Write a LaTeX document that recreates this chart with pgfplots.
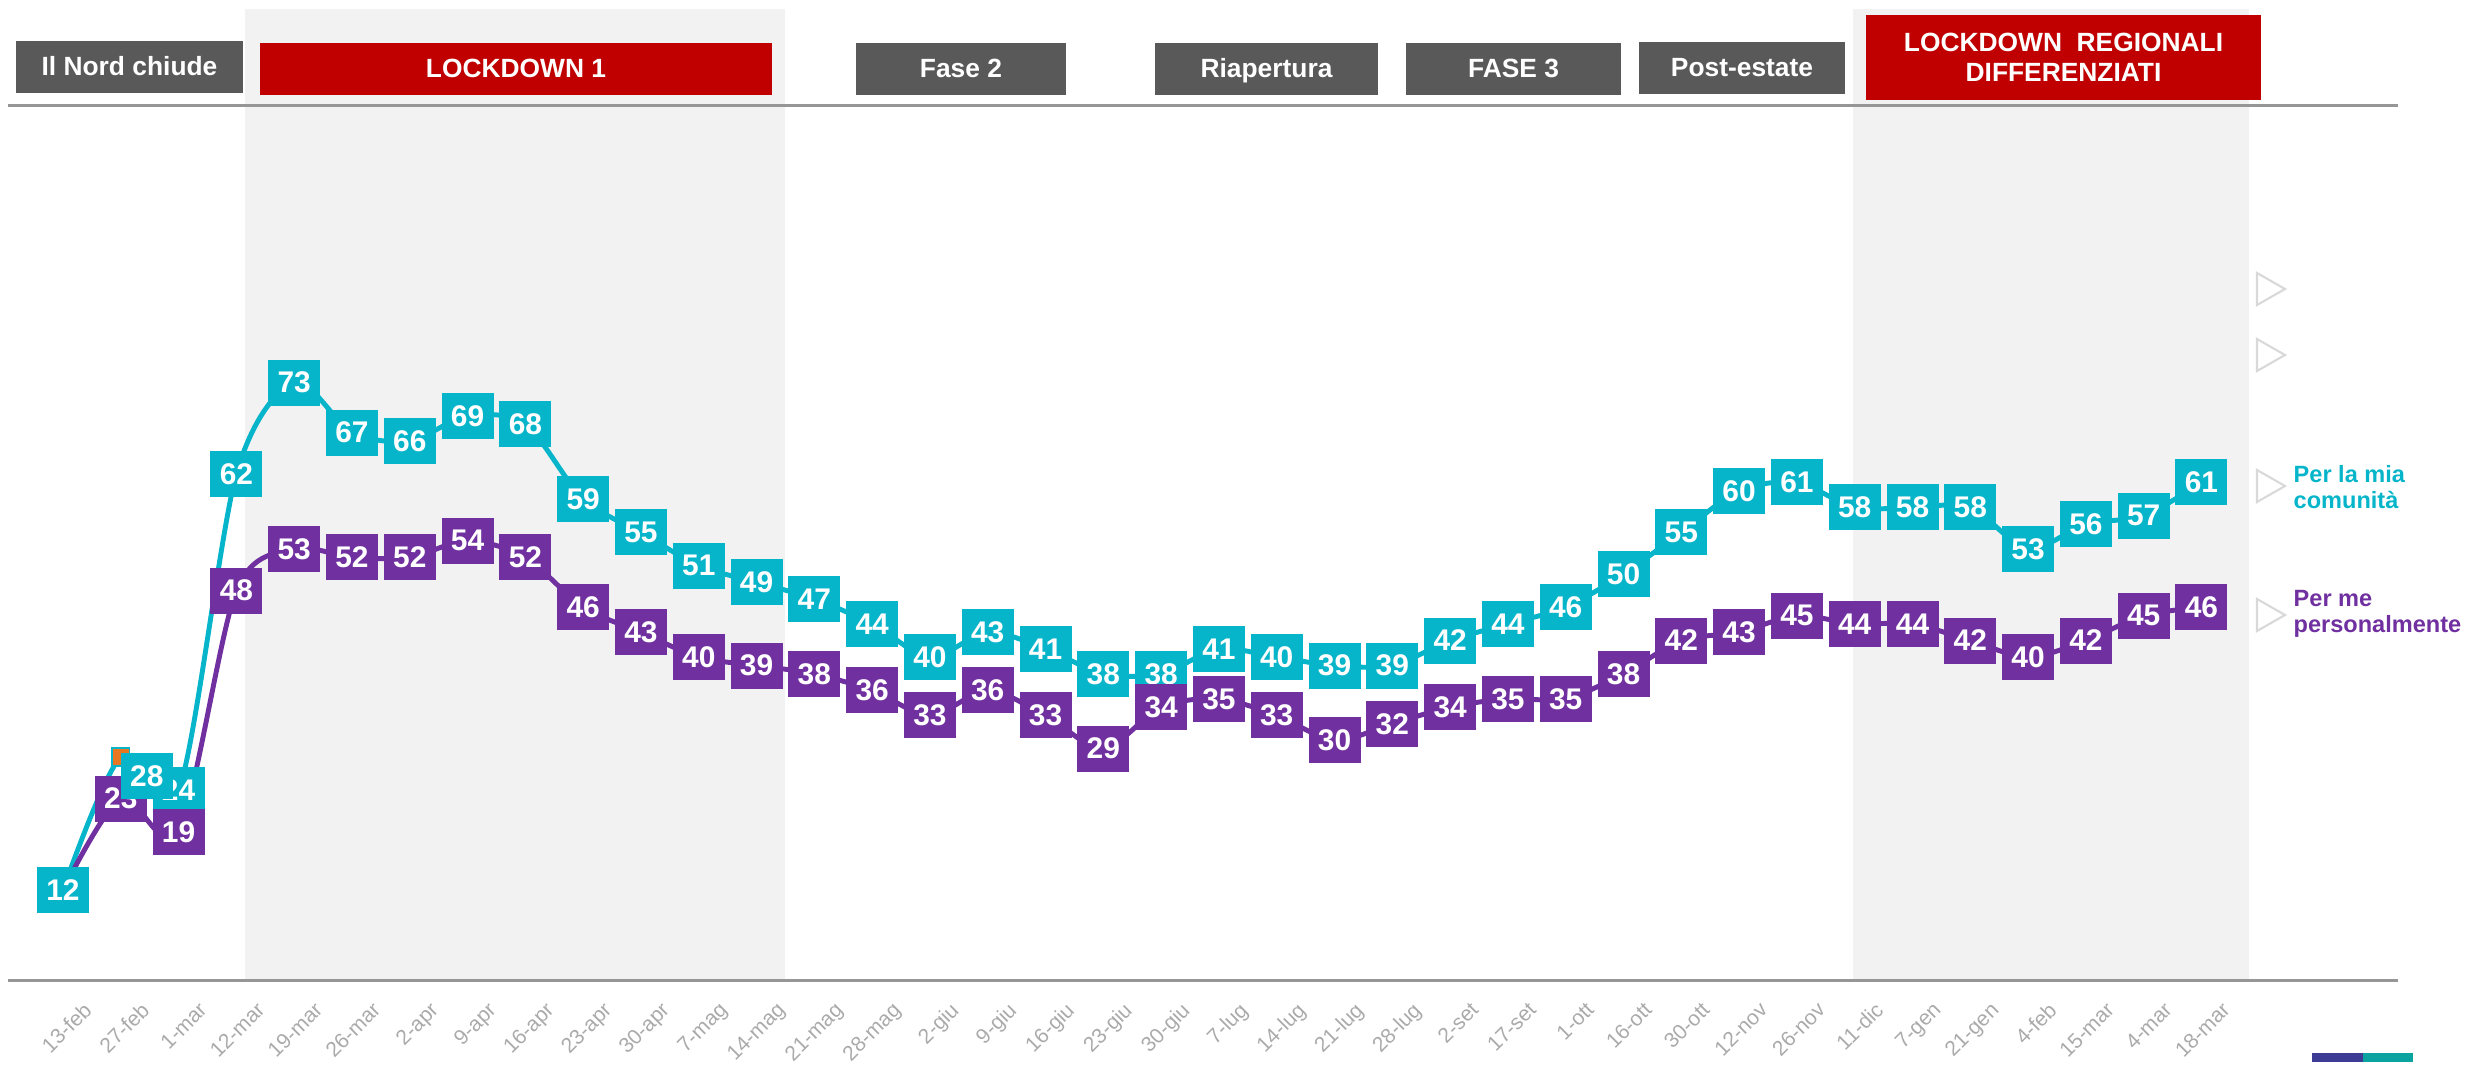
\documentclass[border=0pt]{standalone}
\usepackage{fontspec}
\setmainfont{Liberation Sans}
\usepackage{pgfplots}
\usepackage{pgfplotstable}
\pgfplotsset{compat=1.18}
\definecolor{tealc}{RGB}{7,181,202}
\definecolor{purp}{RGB}{112,48,160}
\definecolor{redc}{RGB}{192,0,0}
\definecolor{dgray}{RGB}{89,89,89}
\definecolor{shadec}{RGB}{242,242,242}
\definecolor{tickc}{RGB}{170,170,170}
\definecolor{axl}{RGB}{150,150,150}
\definecolor{tri}{RGB}{217,217,217}
\definecolor{orng}{RGB}{232,119,34}
\definecolor{logob}{RGB}{60,60,150}
\definecolor{logot}{RGB}{10,163,160}

\pgfplotstableread{
i teal purp
0 12 12
1 28 23
2 24 19
3 62 48
4 73 53
5 67 52
6 66 52
7 69 54
8 68 52
9 59 46
10 55 43
11 51 40
12 49 39
13 47 38
14 44 36
15 40 33
16 43 36
17 41 33
18 38 29
19 38 34
20 41 35
21 40 33
22 39 30
23 39 32
24 42 34
25 44 35
26 46 35
27 50 38
28 55 42
29 60 43
30 61 45
31 58 44
32 58 44
33 58 42
34 53 40
35 56 42
36 57 45
37 61 46
}\datatab

\pgfplotsset{
  tbox/.style={nodes near coords, nodes near coords align={anchor=center},
    every node near coord/.append style={fill=#1, text=white,
      font=\bfseries\fontsize{8.5}{9}\selectfont,
      minimum width=5.2mm, minimum height=4.6mm, inner sep=0pt, anchor=center}},
}
\newcommand\banner[7][text height=0.72em, text depth=0.21em]{%
  \fill[#6] (#2,#3) rectangle (#4,#5);
  \node[text=white, font=\bfseries\fontsize{7.5}{8.5}\selectfont, align=center, inner sep=0pt, #1]
    at ({(#2+#4)/2},{(#3+#5)/2}) {#7};}

\begin{document}
\begin{tikzpicture}
\begin{scope}[x=0.1mm,y=-0.1mm]
\useasboundingbox (0,0) rectangle (2471,1062);
\end{scope}
\begin{axis}[
  at={(0.8mm,-98.1mm)}, anchor=south west,
  scale only axis, width=239mm, height=97.3mm,
  xmin=-0.9516, xmax=40.40, ymin=1.08, ymax=118.03,
  clip=false,
  axis x line*=bottom, axis y line=none,
  axis line style={draw=axl, line width=0.3mm},
  xtick={0,...,37},
  xticklabels={13-feb,27-feb,1-mar,12-mar,19-mar,26-mar,2-apr,9-apr,16-apr,23-apr,30-apr,7-mag,14-mag,21-mag,28-mag,2-giu,9-giu,16-giu,23-giu,30-giu,7-lug,14-lug,21-lug,28-lug,2-set,17-set,1-ott,16-ott,30-ott,12-nov,26-nov,11-dic,7-gen,21-gen,4-feb,15-mar,4-mar,18-mar},
  xtick style={draw=none},
  xticklabel style={rotate=45, anchor=north east, font=\fontsize{6}{7}\selectfont, text=tickc, inner sep=0pt, yshift=-2.7mm},
  ytick=\empty,
  /pgf/number format/assume math mode=true,
]
\fill[shadec] (axis cs:3.149,1.26) rectangle (axis cs:12.49,117.9);
\fill[shadec] (axis cs:30.97,1.26) rectangle (axis cs:37.82,117.9);
\draw[axl, line width=0.3mm] (axis cs:-0.9516,106.37) -- (axis cs:40.40,106.37);

\addplot[tealc, line width=1.4pt, smooth, tension=0.5] table[x=i,y=teal]{\datatab};
\addplot[purp, line width=1.4pt, smooth, tension=0.5] table[x=i,y=purp]{\datatab};
\addplot[draw=none, tbox=tealc, skip coords between index={1}{2}] table[x=i,y=teal]{\datatab};
\addplot[draw=none, tbox=purp, skip coords between index={0}{1}] table[x=i,y=purp]{\datatab};
\addplot[only marks, mark=square*, mark size=2.55pt, mark options={fill=orng, draw=tealc, line width=0.4pt}] coordinates {(1,28)};
\addplot[draw=none, tbox=tealc, every node near coord/.append style={xshift=2.6mm, yshift=-1.9mm}] coordinates {(1,28)};
\end{axis}

\begin{scope}[x=0.1mm,y=-0.1mm]
\banner{16}{41}{243}{93}{dgray}{Il Nord chiude}
\banner{260}{43}{772}{95}{redc}{LOCKDOWN 1}
\banner{856}{43}{1066}{95}{dgray}{Fase 2}
\banner{1155}{43}{1378}{95}{dgray}{Riapertura}
\banner{1406}{43}{1621}{95}{dgray}{FASE 3}
\banner{1639}{42}{1845}{94}{dgray}{Post-estate}
\banner[]{1866}{15}{2261}{100}{redc}{LOCKDOWN~~REGIONALI\\DIFFERENZIATI}
\foreach \c in {289,355,486,615}{
  \draw[tri, line width=0.6pt] (2257,\c-16) -- (2285,\c) -- (2257,\c+16) -- cycle;
}
\node[anchor=west, align=left, text=tealc, font=\bfseries\fontsize{6.7}{7.4}\selectfont, inner sep=0pt] at (2293,487) {Per la mia\\comunità};
\node[anchor=west, align=left, text=purp, font=\bfseries\fontsize{6.7}{7.4}\selectfont, inner sep=0pt] at (2293,614) {Per me\\personalmente};
\fill[logob] (2312,1053) rectangle (2363,1062);
\fill[logot] (2363,1053) rectangle (2413,1062);
\end{scope}
\end{tikzpicture}
\end{document}
